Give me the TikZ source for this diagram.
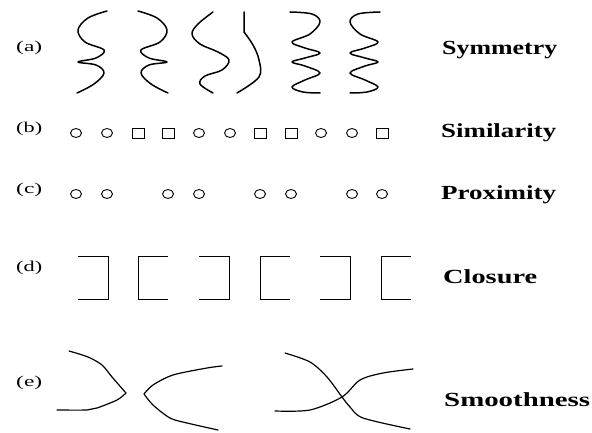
\documentclass[tikz,border=0pt]{standalone}
\usepackage{fontspec}
\setmainfont{Liberation Serif}
\usepackage{graphicx}
\usetikzlibrary{shapes.geometric}
\begin{document}
\begin{tikzpicture}[x=1pt,y=-1pt,
  wave/.style={line width=1.5pt, line join=round, line cap=round},
  shp/.style={line width=0.9pt},
  circ/.style={shp, draw, ellipse, minimum width=11pt, minimum height=9pt, inner sep=0pt},
  sq/.style={shp, draw, rectangle, minimum width=12pt, minimum height=10pt, inner sep=0pt},
  bracket/.style={line width=1pt},
  rowtag/.style={anchor=west, inner sep=0pt, font=\fontsize{15}{17}\selectfont},
  lawname/.style={anchor=west, inner sep=0pt, font=\fontsize{20}{22}\selectfont\bfseries}
]
\useasboundingbox (0,0) rectangle (592,433);
\fill[white] (0,0) rectangle (592,433);

% row (a)
\node[rowtag] (la) at (16,48) {\resizebox{26pt}{\height}{(a)}};
\draw[wave] plot[smooth, tension=0.6] coordinates {(107,11) (88,18) (78,30) (85,42) (104,50) (96,58) (78,62) (96,65) (104,73) (94,84) (77,93)};
\draw[wave] plot[smooth, tension=0.6] coordinates {(138,11) (157,18) (167,30) (160,42) (141,50) (149,58) (167,62) (149,65) (141,73) (151,84) (168,93)};
\draw[wave] plot[smooth, tension=0.6] coordinates {(213,12) (198,24) (192,34) (200,44) (218,52) (229,60) (222,70) (205,76) (200,84) (213,93)};
\draw[wave] (244,12) -- (244,32) plot[smooth, tension=0.6] coordinates {(244,32) (253,45) (259,60) (259,77) (237,93)};
\draw[wave] plot[smooth, tension=0.6] coordinates {(290,12) (312,14) (320,22) (310,34) (292,42) (305,48) (320,53) (305,58) (292,62) (305,66) (320,73) (305,80) (292,87) (303,92) (320,93)};
\draw[wave] plot[smooth, tension=0.6] coordinates {(380,12) (358,14) (350,22) (360,34) (378,42) (365,48) (350,53) (365,58) (378,62) (365,66) (350,73) (365,80) (378,87) (367,92) (350,93)};
\node[lawname] (tsym) at (442,50) {\resizebox{115pt}{\height}{Symmetry}};

% row (b)
\node[rowtag] (lb) at (16,129) {\resizebox{26pt}{\height}{(b)}};
\node[circ] (b1) at (76,133) {};
\node[circ] (b2) at (107,133) {};
\node[sq] (b3) at (138,133) {};
\node[sq] (b4) at (168,133) {};
\node[circ] (b5) at (199,133) {};
\node[circ] (b6) at (230,133) {};
\node[sq] (b7) at (260,133) {};
\node[sq] (b8) at (291,133) {};
\node[circ] (b9) at (321,133) {};
\node[circ] (b10) at (352,133) {};
\node[sq] (b11) at (382,133) {};
\node[lawname] (tsim) at (441,133) {\resizebox{115pt}{\height}{Similarity}};

% row (c)
\node[rowtag] (lc) at (16,190) {\resizebox{26pt}{\height}{(c)}};
\node[circ] (c1) at (76,194) {};
\node[circ] (c2) at (107,194) {};
\node[circ] (c3) at (168,194) {};
\node[circ] (c4) at (199,194) {};
\node[circ] (c5) at (260,194) {};
\node[circ] (c6) at (291,194) {};
\node[circ] (c7) at (352,194) {};
\node[circ] (c8) at (382,194) {};
\node[lawname] (tprox) at (441,195) {\resizebox{115pt}{\height}{Proximity}};

% row (d)
\node[rowtag] (ld) at (16,268) {\resizebox{26pt}{\height}{(d)}};
\draw[bracket] (78,256) -- (108,256) -- (108,299) -- (78,299);
\draw[bracket] (168,256) -- (138,256) -- (138,299) -- (168,299);
\draw[bracket] (199,256) -- (229,256) -- (229,299) -- (199,299);
\draw[bracket] (290,256) -- (260,256) -- (260,299) -- (290,299);
\draw[bracket] (320,256) -- (350,256) -- (350,299) -- (320,299);
\draw[bracket] (411,256) -- (381,256) -- (381,299) -- (411,299);
\node[lawname] (tclos) at (443,277) {\resizebox{94pt}{\height}{Closure}};

% row (e)
\node[rowtag] (le) at (16,383) {\resizebox{26pt}{\height}{(e)}};
\draw[wave, line width=1.2pt] plot[smooth, tension=0.5] coordinates {(69,351) (88,357) (102,365) (112,377) (126,393)};
\draw[wave, line width=1.2pt] plot[smooth, tension=0.5] coordinates {(126,393) (117,400) (97,408) (87,410) (57,410)};
\draw[wave, line width=1.2pt] plot[smooth, tension=0.5] coordinates {(144,394) (153,385) (173,375) (207,368) (222,366)};
\draw[wave, line width=1.2pt] plot[smooth, tension=0.5] coordinates {(144,394) (153,405) (170,418) (187,423) (218,430)};
\draw[wave, line width=1.2pt] plot[smooth, tension=0.5] coordinates {(285,353) (310,362) (327,377) (342,397) (350,407) (363,418) (410,429)};
\draw[wave, line width=1.2pt] plot[smooth, tension=0.5] coordinates {(275,411) (310,410) (342,397) (360,380) (383,373) (413,369)};
\node[lawname] (tsmo) at (444,400) {\resizebox{146pt}{\height}{Smoothness}};
\end{tikzpicture}
\end{document}
